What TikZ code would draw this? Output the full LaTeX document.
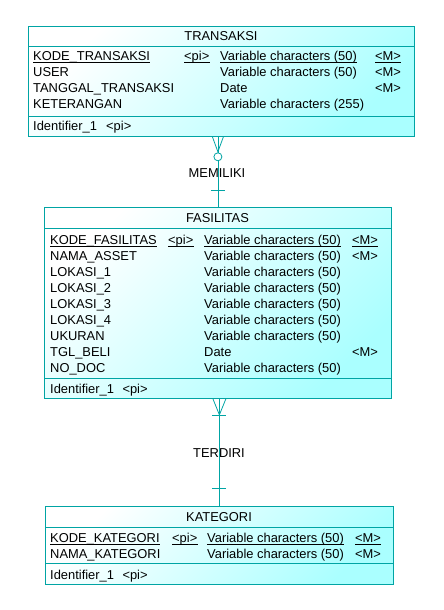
\documentclass[tikz,border=0pt]{standalone}
\usepackage{fontspec}
\setmainfont{Liberation Sans}
\usepackage{tikz}

\definecolor{erline}{RGB}{0,164,164}
\definecolor{erfill}{RGB}{170,255,255}

\begin{document}
\begin{tikzpicture}[x=1pt, y=-1pt, font=\fontsize{12.9}{15}\selectfont,
        entity/.style={rectangle, draw=erline, line width=0.8pt, top color=white, bottom color=erfill, shading angle=45, inner sep=0pt, anchor=north west},
        rel/.style={draw=erline, line width=0.8pt},
        txt/.style={anchor=base west, inner sep=0pt},
        uline/.style={line width=0.6pt}]
            \useasboundingbox (0,0) rectangle (444,610);
            \pgfmathsetmacro{\rh}{16} % row height

            % TRANSAKSI entity
            \node[entity, minimum width=386pt, minimum height=110pt] (trans) at (28,26) {};
            \node[anchor=base, inner sep=0pt] (transT) at (221,40.7) {TRANSAKSI};
            \draw[rel] (28,46) -- (414,46);
            \draw[rel] (28,116) -- (414,116);
            \node[txt] (tk-n) at (33,60.5) {KODE\_TRANSAKSI};
            \node[txt] (tk-p) at (184,60.5) {<pi>};
            \node[txt] (tk-t) at (220,60.5) {Variable characters (50)};
            \node[txt] (tk-m) at (375,60.5) {<M>};
            \foreach \nm/\ty/\mm [count=\i, evaluate=\i as \yy using 60.5+\rh*\i] in
                {USER/Variable characters (50)/<M>, TANGGAL\_TRANSAKSI/Date/<M>, KETERANGAN/Variable characters (255)/{}} {
                \node[txt] (t\i-n) at (33,\yy) {\nm};
                \node[txt] (t\i-t) at (220,\yy) {\ty};
                \node[txt] (t\i-m) at (375,\yy) {\mm};
            }
            \node[txt] (tid) at (33,130) {Identifier\_1};
            \node[txt] (tid-p) at (106,130) {<pi>};

            % FASILITAS entity
            \node[entity, minimum width=347pt, minimum height=191pt] (fas) at (44,207) {};
            \node[anchor=base, inner sep=0pt] (fasT) at (217.5,222.7) {FASILITAS};
            \draw[rel] (44,228) -- (391,228);
            \draw[rel] (44,378) -- (391,378);
            \node[txt] (fk-n) at (50,244.3) {KODE\_FASILITAS};
            \node[txt] (fk-p) at (168,244.3) {<pi>};
            \node[txt] (fk-t) at (204,244.3) {Variable characters (50)};
            \node[txt] (fk-m) at (352,244.3) {<M>};
            \foreach \nm/\ty/\mm [count=\i, evaluate=\i as \yy using 244.3+\rh*\i] in
                {NAMA\_ASSET/Variable characters (50)/<M>, LOKASI\_1/Variable characters (50)/{},
                 LOKASI\_2/Variable characters (50)/{}, LOKASI\_3/Variable characters (50)/{},
                 LOKASI\_4/Variable characters (50)/{}, UKURAN/Variable characters (50)/{},
                 TGL\_BELI/Date/<M>, NO\_DOC/Variable characters (50)/{}} {
                \node[txt] (f\i-n) at (50,\yy) {\nm};
                \node[txt] (f\i-t) at (204,\yy) {\ty};
                \node[txt] (f\i-m) at (352,\yy) {\mm};
            }
            \node[txt] (fid) at (50,393.3) {Identifier\_1};
            \node[txt] (fid-p) at (122.3,393.3) {<pi>};

            % KATEGORI entity
            \node[entity, minimum width=348pt, minimum height=78pt] (kat) at (45,506) {};
            \node[anchor=base, inner sep=0pt] (katT) at (219,521) {KATEGORI};
            \draw[rel] (45,527) -- (393,527);
            \draw[rel] (45,563) -- (393,563);
            \node[txt] (kk-n) at (50,542.3) {KODE\_KATEGORI};
            \node[txt] (kk-p) at (172,542.3) {<pi>};
            \node[txt] (kk-t) at (207,542.3) {Variable characters (50)};
            \node[txt] (kk-m) at (355,542.3) {<M>};
            \node[txt] (k1-n) at (50,558.3) {NAMA\_KATEGORI};
            \node[txt] (k1-t) at (207,558.3) {Variable characters (50)};
            \node[txt] (k1-m) at (355,558.3) {<M>};
            \node[txt] (kid) at (50,579.3) {Identifier\_1};
            \node[txt] (kid-p) at (122.3,579.3) {<pi>};

            % underlined key row
            \foreach \k in {tk-n, tk-p, tk-t, tk-m, fk-n, fk-p, fk-t, fk-m, kk-n, kk-p, kk-t, kk-m}
                \draw[uline] ([yshift=-1.8pt]\k.base west) -- ([yshift=-1.8pt]\k.base east);

            % MEMILIKI: zero or many -- one
            \coordinate (m1) at (fas.north |- trans.south);
            \draw[rel] (fas.north) -- (m1);
            \draw[rel] ([xshift=-5.5pt]m1) -- ([yshift=-15pt]m1) -- ([xshift=5.5pt]m1);
            \node[circle, draw=erline, fill=white, line width=0.8pt, minimum size=8pt, inner sep=0pt] (o1) at ([yshift=-20pt]m1) {};
            \draw[rel] ([xshift=-7pt, yshift=17pt]fas.north) -- ([xshift=7pt, yshift=17pt]fas.north);
            \node[anchor=base, inner sep=0pt] (memiliki) at (217,177.7) {MEMILIKI};

            % TERDIRI: one or many -- one
            \coordinate (m2) at (kat.north |- fas.south);
            \draw[rel] (kat.north) -- (m2);
            \draw[rel] ([xshift=-6.5pt]m2) -- ([yshift=-16pt]m2) -- ([xshift=6.5pt]m2);
            \draw[rel] ([xshift=-7pt, yshift=-17pt]m2) -- ([xshift=7pt, yshift=-17pt]m2);
            \draw[rel] ([xshift=-7pt, yshift=18pt]kat.north) -- ([xshift=7pt, yshift=18pt]kat.north);
            \node[anchor=base, inner sep=0pt] (terdiri) at (219,457.3) {TERDIRI};
        \end{tikzpicture}
\end{document}
